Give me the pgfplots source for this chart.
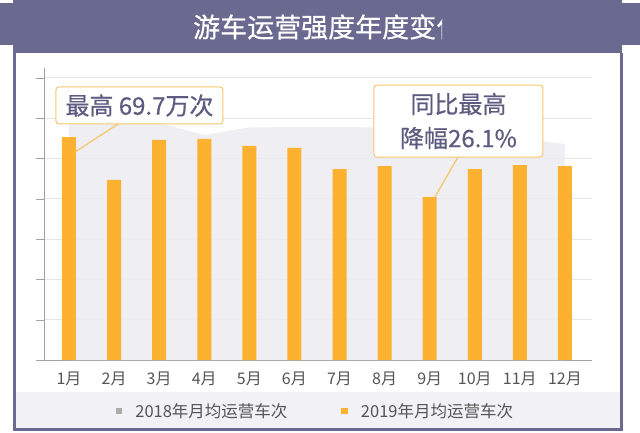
\documentclass[border=0pt]{standalone}
\usepackage{fontspec}
\setmainfont{Noto Sans CJK SC}
\newfontfamily\medfont{Noto Sans CJK SC}[FakeBold=0.5]
\usepackage{pgfplots}
\pgfplotsset{compat=1.18}
\definecolor{band}{RGB}{106,106,145}
\definecolor{barc}{RGB}{252,178,48}
\definecolor{areac}{RGB}{236,236,242}
\definecolor{gridc}{RGB}{228,228,233}
\definecolor{axc}{RGB}{160,160,168}
\definecolor{txt}{RGB}{85,85,85}
\definecolor{calltxt}{RGB}{92,92,128}
\definecolor{callb}{RGB}{246,200,110}
\definecolor{legbg}{RGB}{241,241,246}
\begin{document}
\begin{tikzpicture}[x=1pt,y=1pt]
\fill[white] (0,0) rectangle (640,432);
% title band
\fill[band] (13,379) rectangle (622,432);
\fill[band] (0,387) rectangle (13,429);
\fill[band] (622,387) rectangle (640,429);
\begin{scope}
\clip (0,379) rectangle (442,432);
\node[anchor=west, text=white, font=\medfont\fontsize{27}{30}\selectfont, inner sep=0pt] at (193,405) {游车运营强度年度变化};
\end{scope}
% legend band
\fill[legbg] (15,3) rectangle (621,40);
% frame
\draw[band, line width=2.5pt] (14.25,379) -- (14.25,2.5) -- (621.5,2.5) -- (621.5,379);

\begin{axis}[at={(44pt,72pt)}, anchor=south west, scale only axis,
  width=548pt, height=292pt,
  xmin=0.4456, xmax=12.6, ymin=0, ymax=91.27,
  axis x line*=bottom, axis y line*=left,
  axis line style={axc, -},
  xtick={1,2,3,4,5,6,7,8,9,10,11,12},
  xticklabels={1月,2月,3月,4月,5月,6月,7月,8月,9月,10月,11月,12月},
  xtick style={draw=none},
  ytick={0,12.6,25.2,37.8,50.4,63,75.6,88.2},
  yticklabels={},
  ytick style={axc},
  tick align=outside, major tick length=8pt,
  ymajorgrids, grid style={gridc, line width=0.8pt},
  xticklabel style={font=\fontsize{16}{16}\selectfont, text=txt},
  clip=false,
  legend style={at={(0.4954,-0.1747)}, anchor=center, draw=none, fill=none,
    legend columns=2, font=\fontsize{16.5}{17}\selectfont, text=txt,
    /tikz/every odd column/.append style={column sep=11pt},
    /tikz/every even column/.append style={column sep=52pt}},
  legend cell align=left,
]
\addplot[fill=areac, draw=none, fill opacity=0.85,
  legend image code/.code={\fill[gray!75] (0pt,-3pt) rectangle (6.5pt,3.5pt);}]
  coordinates {(1,74.1) (2,74.1) (3,74.1) (4,70.3) (5,72.7) (6,72.8) (7,72.8) (8,72.7) (9,71.9) (10,70.6) (11,69.1) (12,67.5)} \closedcycle;
\addlegendentry{2018年月均运营车次}
\addplot[ybar, bar width=14pt, fill=barc, draw=none,
  legend image code/.code={\fill[barc] (0pt,-3pt) rectangle (6.5pt,3.5pt);}]
  coordinates {(1,69.7) (2,56.3) (3,68.8) (4,69.1) (5,66.9) (6,66.3) (7,59.7) (8,60.6) (9,50.9) (10,59.7) (11,60.9) (12,60.6)};
\addlegendentry{2019年月均运营车次}
% callouts
\draw[callb, line width=1.3pt] (axis cs:2.087,73.76) -- (axis cs:1.133,65.0);
\node[draw=callb, fill=white, rounded corners=3pt, minimum width=167pt, minimum height=37pt,
  text=calltxt, font=\medfont\fontsize{24}{26}\selectfont, line width=1pt, inner sep=2pt]
  at (axis cs:2.563,79.55) {最高 69.7万次};
\draw[callb, line width=1.3pt] (axis cs:9.627,63.45) -- (axis cs:9.117,50.95);
\node[draw=callb, fill=white, rounded corners=3pt, minimum width=169pt, minimum height=72pt,
  text=calltxt, font=\medfont\fontsize{24}{34}\selectfont, line width=1pt, align=center, inner sep=2pt]
  at (axis cs:9.638,74.70) {同比最高\\降幅26.1\%};
\end{axis}
\end{tikzpicture}
\end{document}
